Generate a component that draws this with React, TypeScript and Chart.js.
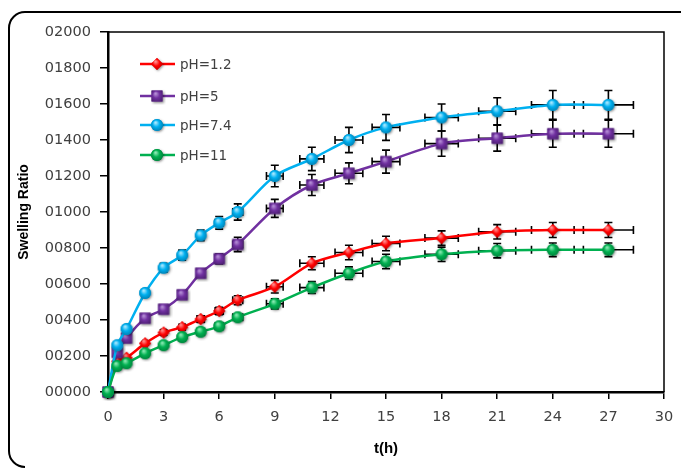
import React, { useEffect, useRef } from "react";
import { Chart, registerables } from "chart.js";

Chart.register(...registerables);

const timeH = [0, 0.5, 1, 2, 3, 4, 5, 6, 7, 9, 11, 13, 15, 18, 21, 24, 27];
const timeErr = [0, 0, 0, 0.1, 0.12, 0.15, 0.2, 0.22, 0.27, 0.45, 0.65, 0.75, 0.75, 0.9, 1.0, 1.15, 1.35];

const ph12 = [0, 170, 190, 270, 330, 360, 405, 450, 510, 585, 715, 775, 825, 855, 890, 900, 900];
const ph12Err = [0, 0, 0, 10, 15, 15, 18, 20, 25, 35, 36, 40, 40, 40, 40, 42, 42];

const ph5 = [0, 220, 300, 410, 460, 540, 660, 740, 820, 1020, 1150, 1215, 1280, 1380, 1410, 1435, 1435];
const ph5Err = [0, 0, 0, 0, 0, 0, 20, 28, 40, 50, 58, 58, 64, 70, 72, 75, 75];

const ph74 = [0, 260, 350, 550, 690, 760, 870, 940, 1000, 1200, 1295, 1400, 1470, 1525, 1560, 1595, 1595];
const ph74Err = [0, 0, 0, 0, 25, 28, 30, 35, 45, 60, 65, 70, 72, 75, 75, 80, 80];

const ph11 = [0, 145, 160, 215, 260, 305, 335, 365, 415, 490, 580, 660, 725, 765, 785, 790, 790];
const ph11Err = [0, 0, 0, 0, 0, 0, 0, 10, 15, 28, 33, 35, 40, 40, 40, 38, 38];

const seriesLabels = ["pH=1.2", "pH=5", "pH=7.4", "pH=11"];
const yTicks = [0, 200, 400, 600, 800, 1000, 1200, 1400, 1600, 1800, 2000];
const xTicks = [0, 3, 6, 9, 12, 15, 18, 21, 24, 27, 30];

const seriesValues = [ph12, ph5, ph74, ph11];
const seriesErrors = [ph12Err, ph5Err, ph74Err, ph11Err];
const seriesColors = ["#FF0000", "#7030A0", "#00B0F0", "#00B050"];
const seriesDark = ["#B00000", "#4A1F6E", "#0078A8", "#007A38"];
const seriesLight = ["#FF9090", "#B58ED6", "#A8E8FF", "#8CEAB4"];
const seriesShapes = ["diamond", "square", "circle", "circle"];

function makeMarker(shape: string, color: string, dark: string, light: string) {
  const size = 18;
  const c = document.createElement("canvas");
  c.width = size;
  c.height = size;
  const ctx = c.getContext("2d")!;
  const cx = size / 2;
  const cy = size / 2;
  const path = () => {
    ctx.beginPath();
    if (shape === "circle") {
      ctx.arc(cx, cy, 6, 0, Math.PI * 2);
    } else if (shape === "square") {
      ctx.rect(cx - 5.5, cy - 5.5, 11, 11);
    } else {
      ctx.moveTo(cx, cy - 6);
      ctx.lineTo(cx + 6, cy);
      ctx.lineTo(cx, cy + 6);
      ctx.lineTo(cx - 6, cy);
      ctx.closePath();
    }
  };
  ctx.save();
  ctx.shadowColor = "rgba(0,0,0,0.45)";
  ctx.shadowBlur = 2.5;
  ctx.shadowOffsetX = 1;
  ctx.shadowOffsetY = 1;
  path();
  ctx.fillStyle = color;
  ctx.fill();
  ctx.restore();
  const g = ctx.createRadialGradient(cx - 1.5, cy - 2.5, 0.5, cx, cy, 7);
  g.addColorStop(0, light);
  g.addColorStop(0.45, color);
  g.addColorStop(1, dark);
  path();
  ctx.fillStyle = g;
  ctx.fill();
  return c;
}

const errorBarPlugin = {
  id: "errorBars",
  beforeDatasetsDraw(chart: any) {
    const { ctx } = chart;
    const xs = chart.scales.x;
    const ys = chart.scales.y;
    ctx.save();
    ctx.strokeStyle = "#000000";
    ctx.lineWidth = 1.6;
    chart.data.datasets.forEach((ds: any, di: number) => {
      const errs = seriesErrors[di];
      ds.data.forEach((p: any, i: number) => {
        const px = xs.getPixelForValue(p.x);
        const py = ys.getPixelForValue(p.y);
        const ye = errs[i];
        const xe = timeErr[i];
        ctx.beginPath();
        if (ye > 0) {
          const t = ys.getPixelForValue(p.y + ye);
          const b = ys.getPixelForValue(p.y - ye);
          ctx.moveTo(px, t);
          ctx.lineTo(px, b);
          ctx.moveTo(px - 4, t);
          ctx.lineTo(px + 4, t);
          ctx.moveTo(px - 4, b);
          ctx.lineTo(px + 4, b);
        }
        if (xe > 0) {
          const l = xs.getPixelForValue(p.x - xe);
          const r = xs.getPixelForValue(p.x + xe);
          ctx.moveTo(l, py);
          ctx.lineTo(r, py);
          ctx.moveTo(l, py - 4);
          ctx.lineTo(l, py + 4);
          ctx.moveTo(r, py - 4);
          ctx.lineTo(r, py + 4);
        }
        ctx.stroke();
      });
    });
    ctx.restore();
  },
};

const framePlugin = {
  id: "frame",
  afterDraw(chart: any) {
    const { ctx, chartArea } = chart;
    ctx.save();
    // plot box top and right
    ctx.strokeStyle = "#000000";
    ctx.lineWidth = 1.5;
    ctx.beginPath();
    ctx.moveTo(chartArea.left, chartArea.top);
    ctx.lineTo(chartArea.right, chartArea.top);
    ctx.lineTo(chartArea.right, chartArea.bottom);
    ctx.stroke();
    // outer rounded frame
    ctx.lineWidth = 2;
    const x0 = 9, y0 = 12, x1 = 683, y1 = 467, r = 16;
    ctx.beginPath();
    ctx.moveTo(x0 + r, y0);
    ctx.lineTo(x1 - 2, y0);
    ctx.moveTo(x0 + r, y0);
    ctx.arcTo(x0, y0, x0, y0 + r, r);
    ctx.lineTo(x0, y1 - r);
    ctx.arcTo(x0, y1, x0 + r, y1, r);
    ctx.stroke();
    // legend
    const ly = [64, 96, 125, 155];
    ctx.font = "13.5px 'DejaVu Sans'";
    ctx.textBaseline = "middle";
    ctx.textAlign = "left";
    chart.data.datasets.forEach((ds: any, i: number) => {
      const y = ly[i];
      ctx.strokeStyle = seriesColors[i];
      ctx.lineWidth = 2.5;
      ctx.beginPath();
      ctx.moveTo(140, y);
      ctx.lineTo(175, y);
      ctx.stroke();
      const img = ds.pointStyle as HTMLCanvasElement;
      ctx.drawImage(img, 157 - img.width / 2, y - img.height / 2);
      ctx.fillStyle = "#404040";
      ctx.fillText(seriesLabels[i], 180, y + 1);
    });
    ctx.restore();
  },
};

export default function App() {
  const canvasRef = useRef<HTMLCanvasElement | null>(null);

  useEffect(() => {
    const canvas = canvasRef.current;
    if (!canvas) return;
    const datasets = seriesValues.map((vals, si) => ({
      label: seriesLabels[si],
      data: timeH.map((t, i) => ({ x: t, y: vals[i] })),
      borderColor: seriesColors[si],
      backgroundColor: seriesColors[si],
      borderWidth: 2.5,
      tension: 0.3,
      order: seriesValues.length - si,
      clip: false as any,
      pointStyle: makeMarker(seriesShapes[si], seriesColors[si], seriesDark[si], seriesLight[si]) as any,
      pointRadius: 6,
      pointHoverRadius: 6,
    }));
    const chart = new Chart(canvas, {
      type: "line",
      data: { datasets },
      plugins: [errorBarPlugin, framePlugin],
      options: {
        responsive: false,
        animation: false,
        devicePixelRatio: 1,
        layout: { padding: { left: 0, top: 32, right: 20, bottom: 0 } },
        plugins: {
          legend: { display: false },
          tooltip: { enabled: false },
        },
        scales: {
          x: {
            type: "linear",
            min: 0,
            max: 30,
            afterBuildTicks: (scale: any) => {
              scale.ticks = xTicks.map((v) => ({ value: v }));
            },
            afterFit: (scale: any) => {
              scale.height = 76;
            },
            ticks: {
              color: "#404040",
              font: { family: "'DejaVu Sans'", size: 14.5 },
              padding: 10,
              maxRotation: 0,
              autoSkip: false,
            },
            grid: {
              drawOnChartArea: false,
              drawTicks: true,
              tickLength: 7,
              color: "#000000",
              lineWidth: 1.5,
            },
            border: { display: true, color: "#000000", width: 2.5 },
            title: {
              display: true,
              text: "t(h)",
              color: "#000000",
              font: { family: "'Liberation Sans'", size: 15, weight: "bold" },
              padding: { top: 0, bottom: 10 },
            },
          },
          y: {
            type: "linear",
            min: 0,
            max: 2000,
            afterBuildTicks: (scale: any) => {
              scale.ticks = yTicks.map((v) => ({ value: v }));
            },
            afterFit: (scale: any) => {
              scale.width = 108;
            },
            ticks: {
              color: "#404040",
              font: { family: "'DejaVu Sans'", size: 14.5 },
              padding: 9,
              callback: (v: any) => String(v).padStart(5, "0"),
            },
            grid: {
              drawOnChartArea: false,
              drawTicks: true,
              tickLength: 8,
              color: "#000000",
              lineWidth: 1.5,
            },
            border: { display: true, color: "#000000", width: 2.5 },
            title: {
              display: true,
              text: "Swelling Ratio",
              color: "#000000",
              font: { family: "'Liberation Sans'", size: 14, weight: "bold" },
              padding: { top: 16, bottom: 0 },
            },
          },
        },
      },
    });
    return () => chart.destroy();
  }, []);

  return (
    <div style={{ position: "fixed", left: 0, top: 0, width: 684, height: 468, background: "#ffffff" }}>
      <canvas ref={canvasRef} width={684} height={468} style={{ display: "block" }} />
    </div>
  );
}
